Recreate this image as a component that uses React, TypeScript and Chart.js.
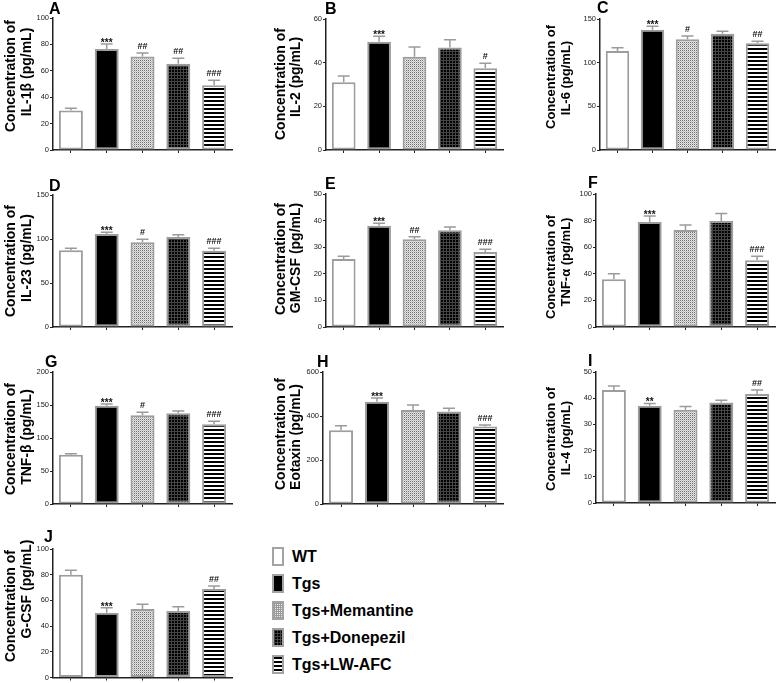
import React, { useEffect, useRef } from "react";
import { Chart, registerables } from "chart.js";

Chart.register(...registerables);

const FONT = '"Liberation Sans", Arial, Helvetica, sans-serif';

// ---------- data ----------
const groups = ["WT", "Tgs", "Tgs+Memantine", "Tgs+Donepezil", "Tgs+LW-AFC"];

const il1bMean = [29.9, 76.5, 70.9, 65.3, 49.1];
const il1bErr = [1.7, 3.8, 2.5, 4.3, 3.8];
const il1bSig = ["", "***", "##", "##", "###"];

const il2Mean = [31.0, 49.6, 42.7, 46.9, 37.4];
const il2Err = [2.9, 2.5, 4.5, 3.6, 2.3];
const il2Sig = ["", "***", "", "", "#"];

const il6Mean = [113.4, 137.8, 126.7, 133.2, 122.1];
const il6Err = [3.8, 3.8, 3.8, 2.7, 2.3];
const il6Sig = ["", "***", "#", "", "##"];

const il23Mean = [87.1, 105.7, 96.2, 102.3, 86.7];
const il23Err = [2.3, 1.9, 3.4, 2.6, 2.7];
const il23Sig = ["", "***", "#", "", "###"];

const gmcsfMean = [25.6, 38.1, 33.0, 36.4, 28.2];
const gmcsfErr = [1.0, 0.9, 0.9, 1.2, 1.0];
const gmcsfSig = ["", "***", "##", "", "###"];

const tnfaMean = [35.9, 79.0, 72.9, 79.7, 50.1];
const tnfaErr = [4.1, 4.5, 3.8, 5.6, 3.1];
const tnfaSig = ["", "***", "", "", "###"];

const tnfbMean = [74.5, 149, 134.5, 137.5, 121];
const tnfbErr = [1.5, 2.5, 4.5, 3.5, 4.5];
const tnfbSig = ["", "***", "#", "", "###"];

const eotaxinMean = [335, 465, 427, 421, 352];
const eotaxinErr = [21, 17, 23, 14, 7];
const eotaxinSig = ["", "***", "", "", "###"];

const il4Mean = [43.1, 37.1, 35.6, 38.4, 41.6];
const il4Err = [1.6, 0.9, 1.2, 0.8, 1.5];
const il4Sig = ["", "**", "", "", "##"];

const gcsfMean = [79.9, 50.3, 53.3, 51.8, 68.8];
const gcsfErr = [3.6, 4.0, 3.8, 3.3, 2.5];
const gcsfSig = ["", "***", "", "", "##"];

const panelLetters = ["A", "B", "C", "D", "E", "F", "G", "H", "I", "J"];
const yTitles = [
  ["Concentration of", "IL-1β (pg/mL)"],
  ["Concentration of", "IL-2 (pg/mL)"],
  ["Concentration of", "IL-6 (pg/mL)"],
  ["Concentration of", "IL-23 (pg/mL)"],
  ["Concentration of", "GM-CSF (pg/mL)"],
  ["Concentration of", "TNF-α (pg/mL)"],
  ["Concentration of", "TNF-β (pg/mL)"],
  ["Concentration of", "Eotaxin (pg/mL)"],
  ["Concentration of", "IL-4 (pg/mL)"],
  ["Concentration of", "G-CSF (pg/mL)"],
];
const yMax = [100, 60, 150, 150, 50, 100, 200, 600, 50, 100];
const yStep = [20, 20, 50, 50, 10, 20, 50, 200, 10, 20];

const means = [il1bMean, il2Mean, il6Mean, il23Mean, gmcsfMean, tnfaMean, tnfbMean, eotaxinMean, il4Mean, gcsfMean];
const errs = [il1bErr, il2Err, il6Err, il23Err, gmcsfErr, tnfaErr, tnfbErr, eotaxinErr, il4Err, gcsfErr];
const sigs = [il1bSig, il2Sig, il6Sig, il23Sig, gmcsfSig, tnfaSig, tnfbSig, eotaxinSig, il4Sig, gcsfSig];

// ---------- layout (pixels) ----------
const colX = [0, 260, 520];
const colW = [260, 260, 259];
const rowY = [0, 176, 353, 530];
const rowH = [176, 177, 177, 153];
// plot rect per panel: [left, top, right, bottom]
const plotRects = [
  [53, 18, 232, 150],
  [326, 19, 503, 150],
  [600, 19, 775, 150],
  [53, 195, 232, 327],
  [326, 194, 503, 327],
  [596, 194, 775, 327],
  [53, 372, 232, 504],
  [323, 372, 503, 504],
  [596, 372, 775, 503],
  [53, 549, 232, 681],
];
// letter positions [x, baseline]
const letterPos = [
  [49, 14], [325, 14], [597, 13],
  [49, 191], [325, 189], [588, 188],
  [45, 367], [317, 367], [588, 366],
  [44, 542],
];
// y-title line baselines (x) per column, and per-line centre y per panel
const titleBase = [[15, 31], [285, 300], [555, 570]];
const titleSize = [14, 14, 13];
const titleCY = [
  [76, 72], [84, 77], [77, 78],
  [261, 258], [259, 258], [267, 262],
  [439, 437], [434, 437], [439, 438],
  [606, 589],
];

function makePattern(kind: string): CanvasPattern | string {
  const c = document.createElement("canvas");
  const ctx = c.getContext("2d");
  if (!ctx) return "#888";
  if (kind === "mem") {
    c.width = 2; c.height = 2;
    ctx.fillStyle = "#e6e6e6"; ctx.fillRect(0, 0, 2, 2);
    ctx.fillStyle = "#6e6e6e"; ctx.fillRect(0, 0, 1, 1);
    ctx.fillStyle = "#bdbdbd"; ctx.fillRect(1, 1, 1, 1);
  } else if (kind === "don") {
    c.width = 3; c.height = 3;
    ctx.fillStyle = "#000"; ctx.fillRect(0, 0, 3, 3);
    ctx.fillStyle = "#454545"; ctx.fillRect(0, 0, 3, 1); ctx.fillRect(0, 0, 1, 3);
  } else {
    c.width = 4; c.height = 4;
    ctx.fillStyle = "#fff"; ctx.fillRect(0, 0, 4, 4);
    ctx.fillStyle = "#000"; ctx.fillRect(0, 0, 4, 2);
  }
  return ctx.createPattern(c, "repeat") || "#888";
}

const decorPlugin = {
  id: "panelDecor",
  afterDatasetsDraw(chart: any, _args: any, opts: any) {
    const ctx = chart.ctx as CanvasRenderingContext2D;
    const meta = chart.getDatasetMeta(0);
    const ys = chart.scales.y;
    meta.data.forEach((el: any, i: number) => {
      const m = opts.mean[i];
      const e = opts.err[i];
      const yTop = ys.getPixelForValue(m + e);
      const yBar = ys.getPixelForValue(m);
      ctx.save();
      ctx.strokeStyle = "#9b9b9b";
      ctx.lineWidth = 1.5;
      ctx.beginPath();
      ctx.moveTo(el.x, yBar);
      ctx.lineTo(el.x, yTop);
      ctx.moveTo(el.x - 6, yTop);
      ctx.lineTo(el.x + 6, yTop);
      ctx.stroke();
      const s = opts.sig[i];
      if (s) {
        ctx.fillStyle = "#111";
        ctx.textAlign = "center";
        ctx.textBaseline = "alphabetic";
        if (s.indexOf("*") >= 0) {
          ctx.font = `bold 10px ${FONT}`;
          ctx.fillText(s, el.x, yTop + 2);
        } else {
          ctx.font = `bold 9px ${FONT}`;
          ctx.fillText(s, el.x, yTop - 4);
        }
      }
      ctx.restore();
    });
  },
  afterDraw(chart: any, _args: any, opts: any) {
    const ctx = chart.ctx as CanvasRenderingContext2D;
    ctx.save();
    ctx.fillStyle = "#000";
    ctx.font = `bold ${opts.titleSize}px ${FONT}`;
    ctx.textAlign = "center";
    ctx.textBaseline = "alphabetic";
    opts.title.forEach((line: string, k: number) => {
      ctx.save();
      ctx.translate(opts.titleX[k] - opts.ox, opts.titleY[k] - opts.oy);
      ctx.rotate(-Math.PI / 2);
      ctx.fillText(line, 0, 0);
      ctx.restore();
    });
    ctx.font = `bold 16px ${FONT}`;
    ctx.textAlign = "left";
    ctx.fillText(opts.letter, opts.letterX - opts.ox, opts.letterY - opts.oy);
    ctx.restore();
  },
};

function Panel({ idx }: { idx: number }) {
  const ref = useRef<HTMLCanvasElement>(null);
  const col = idx % 3;
  const row = Math.floor(idx / 3);
  const bx = colX[col];
  const by = rowY[row];
  const bw = colW[col];
  const bh = rowH[row];
  const [pl, pt, pr, pb] = plotRects[idx];

  useEffect(() => {
    const canvas = ref.current;
    if (!canvas) return;
    const fills = ["#ffffff", "#000000", makePattern("mem"), makePattern("don"), makePattern("lw")];
    const chart = new Chart(canvas, {
      type: "bar",
      data: {
        labels: groups,
        datasets: [
          {
            data: means[idx],
            backgroundColor: fills as any,
            borderColor: "#9d9d9d",
            borderWidth: 2,
            borderSkipped: false,
            barPercentage: 0.67,
            categoryPercentage: 1,
          },
        ],
      },
      options: {
        responsive: false,
        animation: false,
        devicePixelRatio: 1,
        layout: { padding: { left: 0, top: pt - by, right: bx + bw - pr, bottom: 0 } },
        plugins: {
          legend: { display: false },
          tooltip: { enabled: false },
          panelDecor: {
            mean: means[idx],
            err: errs[idx],
            sig: sigs[idx],
            title: yTitles[idx],
            titleX: titleBase[col],
            titleY: titleCY[idx],
            titleSize: titleSize[col],
            letter: panelLetters[idx],
            letterX: letterPos[idx][0],
            letterY: letterPos[idx][1],
            ox: bx,
            oy: by,
          },
        } as any,
        scales: {
          x: {
            grid: { display: true, drawOnChartArea: false, drawTicks: true, tickLength: 3, offset: false, color: "#222", lineWidth: 1 },
            border: { display: true, color: "#222", width: 1.5 },
            ticks: { display: false },
            afterFit: (s: any) => { s.height = by + bh - pb; },
          },
          y: {
            min: 0,
            max: yMax[idx],
            ticks: { stepSize: yStep[idx], font: { size: 7.5, family: FONT }, color: "#222", padding: 1 },
            grid: { display: true, drawOnChartArea: false, drawTicks: true, tickLength: 3, color: "#222", lineWidth: 1 },
            border: { display: true, color: "#222", width: 1.5 },
            afterFit: (s: any) => { s.width = pl - bx; },
          },
        } as any,
      },
      plugins: [decorPlugin as any],
    });
    return () => chart.destroy();
  }, [idx]);

  return (
    <canvas
      ref={ref}
      width={bw}
      height={bh}
      style={{ position: "absolute", left: bx, top: by, width: bw, height: bh }}
    />
  );
}

const legendSwatch: React.CSSProperties[] = [
  { background: "#fff" },
  { background: "#000" },
  {
    backgroundColor: "#ececec",
    backgroundImage: "linear-gradient(#9a9a9a 1px, transparent 1px), linear-gradient(90deg, #9a9a9a 1px, transparent 1px)",
    backgroundSize: "2px 2px",
  },
  {
    backgroundColor: "#000",
    backgroundImage: "linear-gradient(#454545 1px, transparent 1px), linear-gradient(90deg, #454545 1px, transparent 1px)",
    backgroundSize: "3px 3px",
  },
  { background: "repeating-linear-gradient(to bottom, #000 0px, #000 2px, #fff 2px, #fff 4px)" },
];
const legendTop = [547, 574, 601, 628, 655];

export default function App() {
  useEffect(() => {
    document.body.style.margin = "0";
  }, []);
  return (
    <div style={{ position: "absolute", left: 0, top: 0, width: 779, height: 683, background: "#fff", overflow: "hidden" }}>
      {panelLetters.map((_, i) => (
        <Panel key={i} idx={i} />
      ))}
      {groups.map((g, i) => (
        <div key={g} style={{ position: "absolute", left: 272, top: legendTop[i], height: 19, display: "flex", alignItems: "center" }}>
          <div style={{ width: 12, height: 19, boxSizing: "border-box", border: "2px solid #a3a3a3", ...legendSwatch[i] }} />
          <div style={{ marginLeft: 8, font: `bold 16px ${FONT}`, color: "#000", lineHeight: "19px", whiteSpace: "nowrap" }}>{g}</div>
        </div>
      ))}
    </div>
  );
}
